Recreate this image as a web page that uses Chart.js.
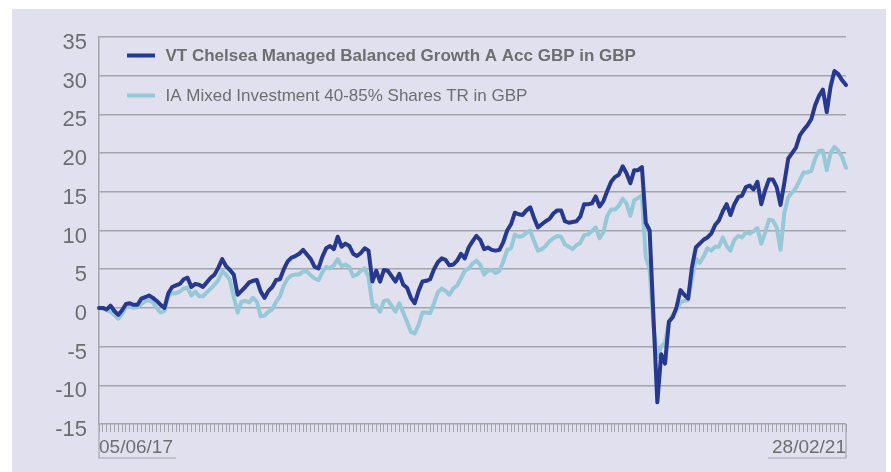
<!DOCTYPE html>
<html>
<head>
<meta charset="utf-8">
<script src="https://cdn.jsdelivr.net/npm/chart.js@4.4.1/dist/chart.umd.min.js"></script>
<style>
  html, body { margin: 0; padding: 0; background: #ffffff; }
  #frame { position: absolute; left: 12px; top: 9px; width: 874px; height: 463px; background: rgb(225,224,238); }
  canvas { display: block; }
</style>
</head>
<body>
<div id="frame"><canvas id="c" width="874" height="463"></canvas></div>
<script>
// ---- data ----
const startDate = '2017-06-05';
const firstLabel = '05/06/17';
const lastLabel = '28/02/21';

const seriesNames = [
  'VT Chelsea Managed Balanced Growth A Acc GBP in GBP',
  'IA Mixed Investment 40-85% Shares TR in GBP'
];

const fundValues = [
  0.0, 0.0, -0.2, 0.3, -0.4, -0.9, -0.3, 0.5, 0.6, 0.4,
  0.4, 1.2, 1.4, 1.6, 1.3, 0.9, 0.4, 0.0, 1.9, 2.7,
  2.9, 3.1, 3.7, 3.9, 2.7, 3.1, 3.0, 2.7, 3.3, 3.9,
  4.3, 5.2, 6.3, 5.4, 4.9, 4.3, 1.7, 2.2, 2.7, 3.3,
  3.5, 3.6, 2.1, 1.3, 2.2, 2.7, 3.6, 3.7, 5.0, 6.0,
  6.5, 6.7, 7.0, 7.5, 6.9, 6.3, 5.3, 5.1, 6.6, 7.7,
  8.0, 7.6, 9.2, 7.9, 8.3, 8.0, 7.0, 6.7, 7.1, 7.7,
  7.4, 3.4, 4.8, 3.4, 4.9, 4.8, 4.1, 3.4, 4.4, 3.0,
  2.6, 1.3, 0.6, 2.2, 3.4, 3.5, 3.7, 5.0, 5.9, 6.4,
  6.2, 5.5, 5.6, 6.1, 7.0, 6.4, 7.8, 8.6, 9.3, 8.8,
  7.6, 7.8, 7.5, 7.4, 7.5, 8.5, 10.0, 10.8, 12.3, 12.1,
  12.0, 12.6, 13.0, 11.6, 10.4, 10.8, 11.2, 11.5, 12.2, 12.6,
  12.6, 11.2, 11.0, 11.1, 11.2, 11.8, 13.4, 13.4, 13.5, 14.4,
  13.1, 13.8, 15.1, 16.3, 16.9, 17.2, 18.3, 17.4, 16.1, 17.8,
  17.8, 18.2, 11.0, 10.0, -1.2, -12.2, -6.0, -7.2, -1.8, -1.2,
  0.1, 2.3, 1.7, 1.2, 5.3, 7.8, 8.3, 8.8, 9.1, 9.6,
  10.7, 11.3, 12.5, 13.4, 12.0, 13.4, 14.3, 14.5, 15.6, 15.8,
  15.3, 16.3, 13.4, 15.2, 16.6, 16.6, 15.6, 13.3, 16.2, 19.3,
  20.0, 20.7, 22.3, 23.0, 23.6, 24.4, 26.2, 27.4, 28.2, 25.3,
  28.6, 30.6, 30.2, 29.4, 28.8
];

const sectorValues = [
  0.0, -0.1, -0.3, -0.5, -0.9, -1.4, -0.8, 0.1, 0.2, 0.0,
  0.1, 0.5, 0.9, 1.0, 0.7, 0.0, -0.6, -0.4, 1.5, 1.9,
  1.9, 2.1, 2.5, 2.6, 1.6, 2.1, 1.5, 1.5, 2.0, 2.5,
  3.0, 3.6, 4.7, 4.3, 3.6, 1.4, -0.6, 0.8, 0.9, 0.7,
  1.3, 0.8, -1.1, -1.0, -0.5, -0.2, 0.8, 1.5, 2.9, 3.8,
  4.2, 4.3, 4.3, 4.7, 4.7, 4.2, 3.8, 3.6, 4.6, 5.3,
  5.1, 5.5, 6.3, 5.4, 5.6, 5.3, 4.1, 4.3, 4.8, 5.1,
  4.0, 0.4, 0.3, -0.5, 0.9, 1.0, 0.3, -0.5, 0.6, -0.6,
  -1.8, -3.1, -3.3, -2.2, -0.6, -0.6, -0.7, 0.6, 2.0, 2.5,
  2.2, 1.7, 2.5, 2.9, 3.8, 4.8, 5.1, 5.7, 6.1, 5.6,
  4.3, 4.8, 4.9, 4.5, 4.8, 6.0, 7.5, 7.7, 9.5, 9.2,
  9.3, 9.7, 10.0, 8.6, 7.4, 7.6, 8.0, 8.6, 9.0, 9.3,
  9.2, 8.2, 7.9, 7.6, 8.1, 8.4, 9.4, 9.5, 9.9, 10.4,
  9.0, 9.8, 11.9, 12.7, 12.7, 13.2, 14.1, 13.5, 11.9, 13.9,
  14.2, 14.5, 6.6, 5.0, -2.5, -6.3, -5.0, -4.5, -1.8, -0.9,
  -0.3, 0.7, 0.9, 1.0, 3.7, 6.4, 5.8, 6.6, 7.7, 7.4,
  7.9, 7.9, 9.1, 8.0, 7.4, 8.8, 9.3, 9.1, 9.8, 9.6,
  9.9, 10.3, 8.3, 9.7, 11.4, 11.3, 10.4, 7.5, 12.3, 14.3,
  14.9, 15.5, 16.5, 17.5, 17.5, 17.7, 19.3, 20.3, 20.3, 17.8,
  20.0, 20.8, 20.3, 19.5, 18.1
];

const yTicks = { min: -15, max: 35, step: 5 };

// weekly category labels (dd/mm/yy)
function pad(n) { return String(n).padStart(2, '0'); }
const weekLabels = [];
{
  const d0 = new Date(startDate + 'T00:00:00Z');
  for (let i = 0; i < fundValues.length; i++) {
    const d = new Date(d0.getTime() + i * 7 * 86400000);
    weekLabels.push(pad(d.getUTCDate()) + '/' + pad(d.getUTCMonth() + 1) + '/' + String(d.getUTCFullYear()).slice(2));
  }
  weekLabels[0] = firstLabel;
  weekLabels[weekLabels.length - 1] = lastLabel;
}

// ---- styles ----
const DARK = '#27388f';
const LIGHT = '#96c8d8';
const GRID = '#a4a4ac';
const TEXT = '#6e6e70';
const FONT = "'Liberation Sans', Arial, Helvetica, sans-serif";

const legendPlugin = {
  id: 'insideLegend',
  afterDraw(chart) {
    const { ctx, chartArea } = chart;
    ctx.save();
    chart.data.datasets.forEach((ds, i) => {
      const y = chartArea.top + 18.5 + i * 40;
      ctx.strokeStyle = ds.borderColor;
      ctx.lineWidth = 4;
      ctx.lineCap = 'butt';
      ctx.beginPath();
      ctx.moveTo(chartArea.left + 28, y);
      ctx.lineTo(chartArea.left + 56, y);
      ctx.stroke();
      ctx.fillStyle = TEXT;
      ctx.font = (i === 0 ? 'bold ' : '') + '17px ' + FONT;
      ctx.textBaseline = 'middle';
      ctx.textAlign = 'left';
      ctx.fillText(ds.label, chartArea.left + 66.5, y + 1);
    });
    ctx.restore();
  }
};

const labelBoxPlugin = {
  id: 'labelBox',
  afterDraw(chart) {
    const { ctx, chartArea } = chart;
    const top = chartArea.bottom;
    const bot = top + 34;
    ctx.save();
    ctx.font = '19px ' + FONT;
    const w1 = ctx.measureText(weekLabels[0]).width;
    const w2 = ctx.measureText(weekLabels[weekLabels.length - 1]).width;
    ctx.strokeStyle = GRID;
    ctx.lineWidth = 1.2;
    ctx.beginPath();
    ctx.moveTo(chartArea.left, top);
    ctx.lineTo(chartArea.left, bot);
    ctx.lineTo(chartArea.left + w1 + 3, bot);
    ctx.moveTo(chartArea.right, top);
    ctx.lineTo(chartArea.right, bot);
    ctx.lineTo(chartArea.right - w2 - 4, bot);
    ctx.stroke();
    ctx.restore();
  }
};

new Chart(document.getElementById('c'), {
  type: 'line',
  data: {
    labels: weekLabels,
    datasets: [
      { label: seriesNames[0], data: fundValues, borderColor: DARK, backgroundColor: DARK,
        borderWidth: 4, pointRadius: 0, tension: 0, borderJoinStyle: 'round', borderCapStyle: 'round', order: 0 },
      { label: seriesNames[1], data: sectorValues, borderColor: LIGHT, backgroundColor: LIGHT,
        borderWidth: 4, pointRadius: 0, tension: 0, borderJoinStyle: 'round', borderCapStyle: 'round', order: 1 }
    ]
  },
  options: {
    responsive: false,
    devicePixelRatio: 1,
    animation: false,
    layout: { padding: { top: 28, right: 40, left: 0, bottom: 0 } },
    plugins: { legend: { display: false }, tooltip: { enabled: false } },
    scales: {
      x: {
        type: 'category',
        offset: false,
        grid: { display: true, drawOnChartArea: false, drawTicks: true, tickLength: 8, color: GRID, tickColor: GRID, lineWidth: 1 },
        border: { display: false },
        ticks: {
          autoSkip: false, maxRotation: 0, minRotation: 0, align: 'inner', padding: 4,
          color: TEXT, font: { family: FONT, size: 19 },
          callback: (v, i) => (i === 0 || i === weekLabels.length - 1) ? weekLabels[i] : ''
        },
        afterFit: s => { s.height = 48; }
      },
      y: {
        min: yTicks.min, max: yTicks.max,
        grid: { color: GRID, lineWidth: 1.5, drawTicks: false },
        border: { display: true, color: GRID, width: 1.5 },
        ticks: { stepSize: yTicks.step, padding: 12, labelOffset: 6, color: TEXT, font: { family: FONT, size: 22 } },
        afterFit: s => { s.width = 87; }
      }
    }
  },
  plugins: [legendPlugin, labelBoxPlugin]
});
</script>
</body>
</html>
